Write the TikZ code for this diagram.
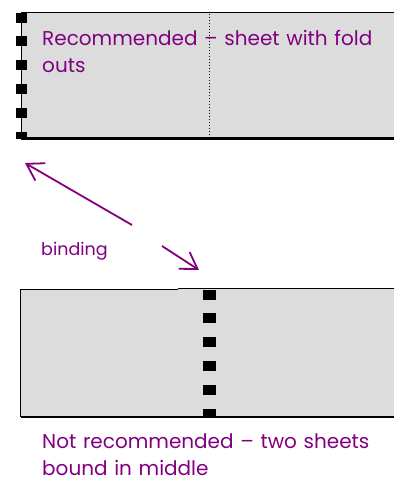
\documentclass[tikz,border=0pt]{standalone}
\usepackage{fontspec}
\setmainfont{Poppins}
\usetikzlibrary{arrows.meta}
\definecolor{sheetgray}{HTML}{DCDCDC}
\definecolor{plum}{HTML}{800080}
\tikzset{
  sheet/.style={fill=sheetgray, draw=none},
  edge/.style={draw=black, line width=1.6pt},
  thinedge/.style={draw=black, line width=1pt},
  ring/.style={fill=black},
  caption/.style={text=plum, anchor=base west, inner sep=0pt, align=left, text width=345pt, font=\fontsize{20}{27}\selectfont},
  pointer/.style={draw=plum, line width=1.8pt, -{Straight Barb[length=16pt,width=20pt,line width=1.8pt]}},
}
\begin{document}
\begin{tikzpicture}[x=1pt,y=-1pt]
\useasboundingbox (0,0) rectangle (394,479);
% --- sheet with fold outs ---
\fill[sheet] (21,12) rectangle (394,138);
\draw[edge, line width=1.4pt] (21,12.5) -- (394,12.5);
\draw[edge, line width=2.4pt] (21,138.5) -- (394,138.5);
\draw[thinedge] (21,12) -- (21,139);
\draw[black, line width=1pt, dotted] (209,14) -- (209,137);
\foreach \y/\h in {13/10, 36/10, 60/10, 84/10, 108/10, 132/7}
  \fill[ring] (16,\y) rectangle ++(10.5,\h);
\node[caption] (top) at (42,45) {Recommended -- sheet with fold\\outs};
% --- two sheets bound in the middle ---
\fill[sheet] (21,289) rectangle (394,417);
\draw[thinedge] (20.5,289) -- (178,289);
\draw[edge, line width=1.4pt] (178,288.3) -- (394,288.3);
\draw[edge] (20.5,289) -- (20.5,417);
\draw[edge, line width=2pt] (20.5,416.5) -- (394,416.5);
\foreach \y/\h in {290/10, 313/10, 337/10, 361/10, 385/10, 409/8}
  \fill[ring] (203,\y) rectangle ++(12.5,\h);
\node[caption] (bottom) at (42,448) {Not recommended -- two sheets\\bound in middle};
% --- binding pointers ---
\node[caption, text width=100pt, font=\fontsize{17.5}{17.5}\selectfont] (binding) at (41,255) {binding};
\coordinate (spineA) at (25,163);
\coordinate (spineB) at (199,270);
\coordinate (startA) at (132,225);
\coordinate (startB) at (162,246);
\draw[pointer] (startA) -- (spineA);
\draw[pointer] (startB) -- (spineB);
\end{tikzpicture}
\end{document}
